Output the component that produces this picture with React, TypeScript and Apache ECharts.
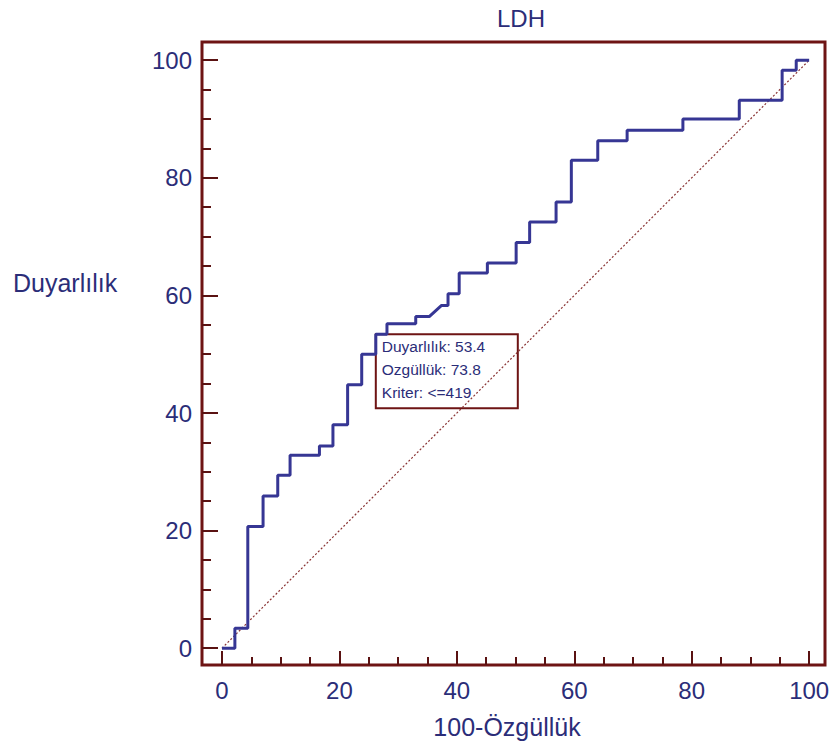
import React, { useEffect, useRef } from "react";
import * as echarts from "echarts";

// ROC curve vertices (100-Specificity, Sensitivity)
const fpr = [
  0, 2.2, 2.2, 4.4, 4.4, 7.0, 7.0, 9.5, 9.5, 11.6, 11.6, 16.6, 16.6, 18.9, 18.9,
  21.4, 21.4, 23.8, 23.8, 26.2, 26.2, 28.1, 28.1, 33.0, 33.0, 35.3, 37.4, 38.5,
  38.5, 40.4, 40.4, 45.2, 45.2, 50.1, 50.1, 52.4, 52.4, 56.9, 56.9, 59.5, 59.5,
  64.0, 64.0, 69.0, 69.0, 78.5, 78.5, 88.1, 88.1, 95.4, 95.4, 97.8, 97.8, 100,
];
const tpr = [
  0, 0, 3.4, 3.4, 20.7, 20.7, 25.9, 25.9, 29.4, 29.4, 32.8, 32.8, 34.4, 34.4, 38.0,
  38.0, 44.8, 44.8, 50.0, 50.0, 53.4, 53.4, 55.2, 55.2, 56.4, 56.4, 58.3, 58.3,
  60.3, 60.3, 63.8, 63.8, 65.5, 65.5, 69.0, 69.0, 72.5, 72.5, 75.9, 75.9, 83.0,
  83.0, 86.3, 86.3, 88.1, 88.1, 90.0, 90.0, 93.2, 93.2, 98.3, 98.3, 100, 100,
];
const diagX = [0, 100];
const diagY = [0, 100];

const majorTicks = [0, 20, 40, 60, 80, 100];
const minorTicks = [5, 10, 15, 25, 30, 35, 45, 50, 55, 65, 70, 75, 85, 90, 95];

const criterionPoint = [26.2, 53.4];
const criterionLines = ["Duyarlılık: 53.4", "Ozgüllük: 73.8", "Kriter: <=419"];

const titleText = "LDH";
const xName = "100-Özgüllük";
const yName = "Duyarlılık";

const XMIN = -3.4;
const XMAX = 102.7;
const YMIN = -2.85;
const YMAX = 103.1;

const FONT = "'Liberation Sans', Arial, sans-serif";
const TEXT = "#2b2d78";
const FRAME = "#6e1414";
const TICK = "#5a1212";
const CURVE = "#363694";

export default function App() {
  const ref = useRef<HTMLDivElement>(null);

  useEffect(() => {
    if (!ref.current) return;
    const chart = echarts.init(ref.current, null, { renderer: "svg" });

    const tickBase = {
      inside: true,
      lineStyle: { color: TICK, width: 2 },
    };
    const labelStyle = { color: TEXT, fontSize: 24, fontFamily: FONT };

    const mkX = (major: boolean) => ({
      type: "value",
      min: XMIN,
      max: XMAX,
      position: "bottom",
      axisLine: { show: false, onZero: false },
      splitLine: { show: false },
      axisTick: {
        ...tickBase,
        length: major ? 14 : 8,
        customValues: major ? majorTicks : minorTicks,
      },
      axisLabel: major
        ? { ...labelStyle, margin: 13, customValues: majorTicks }
        : { show: false },
    });
    const mkY = (major: boolean) => ({
      type: "value",
      min: YMIN,
      max: YMAX,
      position: "left",
      axisLine: { show: false, onZero: false },
      splitLine: { show: false },
      axisTick: {
        ...tickBase,
        length: major ? 16 : 9,
        customValues: major ? majorTicks : minorTicks,
      },
      axisLabel: major
        ? { ...labelStyle, margin: 10, customValues: majorTicks }
        : { show: false },
    });

    chart.setOption({
      animation: false,
      backgroundColor: "#ffffff",
      grid: {
        left: 202,
        right: 10,
        top: 42,
        bottom: 83,
        show: true,
        borderColor: FRAME,
        borderWidth: 3,
        backgroundColor: "#ffffff",
      },
      xAxis: [mkX(true), mkX(false)],
      yAxis: [mkY(true), mkY(false)],
      series: [
        {
          type: "line",
          xAxisIndex: 0,
          yAxisIndex: 0,
          data: diagX.map((x, i) => [x, diagY[i]]),
          showSymbol: false,
          lineStyle: { color: "#8a3434", width: 1.2, type: [2, 2] },
          z: 1,
        },
        {
          type: "line",
          xAxisIndex: 0,
          yAxisIndex: 0,
          data: fpr.map((x, i) => [x, tpr[i]]),
          showSymbol: false,
          lineStyle: { color: CURVE, width: 3 },
          z: 2,
        },
      ],
    });

    const p = chart.convertToPixel({ xAxisIndex: 0, yAxisIndex: 0 }, criterionPoint) as number[];
    const boxW = 142;
    const boxH = 74;

    chart.setOption({
      graphic: [
        {
          type: "text",
          left: 497,
          top: 6,
          style: { text: titleText, fill: TEXT, font: `24px ${FONT}` },
        },
        {
          type: "text",
          x: 13,
          y: 283,
          style: {
            text: yName,
            fill: TEXT,
            font: `25px ${FONT}`,
            verticalAlign: "middle",
          },
        },
        {
          type: "text",
          x: 507,
          y: 727,
          style: {
            text: xName,
            fill: TEXT,
            font: `25px ${FONT}`,
            align: "center",
            verticalAlign: "middle",
          },
        },
        {
          type: "group",
          x: p[0],
          y: p[1],
          z: 100,
          children: [
            {
              type: "rect",
              shape: { x: 0, y: 0, width: boxW, height: boxH },
              style: { fill: "#ffffff", stroke: FRAME, lineWidth: 2 },
            },
            ...criterionLines.map((t, i) => ({
              type: "text",
              x: 6,
              y: 12 + i * 23,
              style: {
                text: t,
                fill: TEXT,
                font: `15.5px ${FONT}`,
                verticalAlign: "middle",
              },
            })),
          ],
        },
      ],
    });

    return () => chart.dispose();
  }, []);

  return (
    <div
      ref={ref}
      style={{ position: "fixed", left: 0, top: 0, width: 835, height: 748 }}
    />
  );
}
